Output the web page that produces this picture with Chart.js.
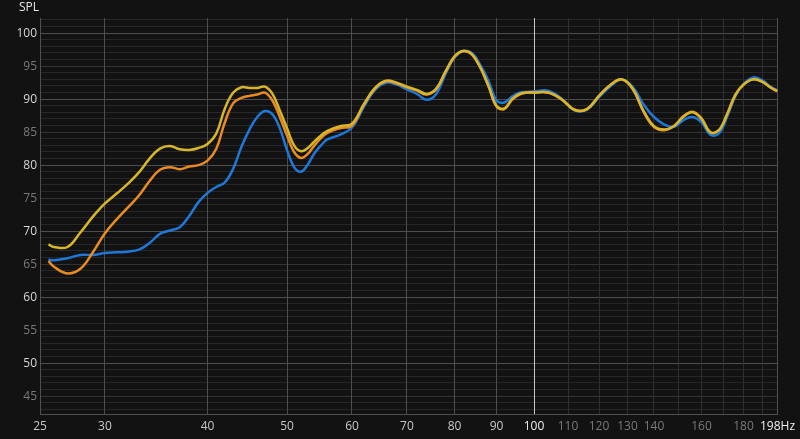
<!DOCTYPE html>
<html>
<head>
<meta charset="utf-8">
<script src="https://cdn.jsdelivr.net/npm/chart.js@4"></script>
<style>
  html, body { margin: 0; padding: 0; background: #121212; }
  canvas { display: block; }
</style>
</head>
<body>
<canvas id="spl" width="800" height="439"></canvas>
<script>
// frequency points (Hz)
const freqs = [
  25.6, 26, 27, 28, 29, 30, 31, 32, 33, 34, 35, 36, 37, 38, 39, 40, 41, 42, 43, 44, 45, 46, 47, 48, 49, 50,
  51, 52, 53, 54, 55, 56, 58, 60, 62, 64, 66, 68, 70, 72, 74, 76, 78, 80, 82, 84, 86, 88, 90, 92, 94, 96, 98, 100,
  104, 108, 112, 116, 120, 124, 128, 132, 136, 140, 144, 148, 152, 156, 160, 164, 168, 172, 176, 180,
  185, 190, 194, 198
];

const yellowSpl = [
  68.0, 67.6, 67.6, 69.8, 72.2, 74.2, 75.7, 77.2, 78.9, 81.0, 82.5, 82.9, 82.4, 82.3, 82.6, 83.2, 84.8, 88.6, 91.0, 91.8, 91.7, 91.7, 91.9, 90.8, 88.3, 85.6,
  83.0, 82.1, 82.6, 83.6, 84.5, 85.2, 85.9, 86.3, 89.2, 91.7, 92.8, 92.5, 91.9, 91.4, 90.8, 91.6, 94.2, 96.5, 97.3, 96.8, 94.8, 92.0, 89.0, 88.6, 90.0, 90.8, 91.0, 91.0,
  91.0, 90.0, 88.4, 88.5, 90.5, 92.2, 93.0, 91.5, 88.2, 85.9, 85.4, 85.9, 87.3, 88.0, 87.0, 85.0, 85.3, 87.8, 90.7, 92.2,
  93.0, 92.6, 91.8, 91.2
];

const orangeSpl = [
  65.5, 64.6, 63.6, 64.3, 66.8, 69.7, 71.8, 73.6, 75.4, 77.6, 79.3, 79.7, 79.4, 79.8, 80.0, 80.7, 82.5, 86.5, 89.4, 90.2, 90.5, 90.7, 91.0, 89.8, 87.3, 84.5,
  82.0, 81.1, 81.7, 83.0, 84.1, 84.9, 85.6, 86.0, 89.1, 91.6, 92.7, 92.4, 91.8, 91.3, 90.7, 91.5, 94.1, 96.4, 97.3, 96.8, 94.8, 92.0, 88.9, 88.5, 89.9, 90.7, 91.0, 91.0,
  91.0, 90.0, 88.4, 88.5, 90.5, 92.2, 93.0, 91.5, 88.1, 85.8, 85.3, 85.9, 87.4, 88.1, 87.1, 85.0, 85.3, 87.8, 90.7, 92.2,
  93.0, 92.6, 91.8, 91.2
];

const blueSpl = [
  65.7, 65.6, 65.9, 66.4, 66.4, 66.7, 66.8, 66.9, 67.2, 68.2, 69.6, 70.1, 70.6, 72.3, 74.4, 75.8, 76.7, 77.4, 79.5, 82.8, 85.4, 87.3, 88.2, 87.7, 85.6, 82.3,
  79.7, 79.0, 80.1, 81.8, 83.0, 83.9, 84.6, 85.7, 88.8, 91.4, 92.5, 92.2, 91.5, 90.8, 89.9, 90.8, 93.8, 96.3, 97.3, 97.0, 95.2, 92.8, 89.8, 89.5, 90.4, 91.0, 91.1, 91.2,
  91.3, 90.1, 88.3, 88.4, 90.3, 92.0, 93.0, 91.8, 89.2, 87.3, 86.2, 85.8, 86.8, 87.3, 86.5, 84.6, 84.8, 87.4, 90.5, 92.3,
  93.3, 92.8, 91.9, 91.3
];

// axis ticks
const xTicks = [25, 30, 40, 50, 60, 70, 80, 90, 100, 110, 120, 130, 140, 150, 160, 170, 180, 190, 198];
const xLabelled = [25, 30, 40, 50, 60, 70, 80, 90, 100, 110, 120, 130, 140, 160, 180, 198];
const yMin = 42.3, yMax = 102.3;

const toPoints = vals => freqs.map((f, i) => ({ x: f, y: vals[i] }));

const backdrop = {
  id: 'backdrop',
  beforeDraw(chart) {
    const c = chart.ctx;
    c.save();
    c.fillStyle = '#121212';
    c.fillRect(0, 0, chart.width, chart.height);
    c.restore();
  },
  afterDraw(chart) {
    const c = chart.ctx;
    c.save();
    c.fillStyle = '#e6e6e6';
    c.font = '12px "Open Sans"';
    c.textBaseline = 'middle';
    c.fillText('SPL', 19, 8);
    c.restore();
  }
};

const lineStyle = (color) => ({
  borderColor: color,
  borderWidth: 2.5,
  pointRadius: 0,
  tension: 0.4,
  fill: false
});

new Chart(document.getElementById('spl'), {
  type: 'line',
  data: {
    datasets: [
      { label: 'C', data: toPoints(yellowSpl), ...lineStyle('#d8b62a') },
      { label: 'B', data: toPoints(orangeSpl), ...lineStyle('#e88b22') },
      { label: 'A', data: toPoints(blueSpl), ...lineStyle('#1f77d8') }
    ]
  },
  plugins: [backdrop],
  options: {
    responsive: false,
    animation: false,
    layout: { padding: { top: 18, right: 19, left: 0, bottom: 0 } },
    plugins: { legend: { display: false }, tooltip: { enabled: false } },
    scales: {
      x: {
        type: 'logarithmic',
        min: 25,
        max: 198,
        afterBuildTicks: s => { s.ticks = xTicks.map(v => ({ value: v })); },
        afterFit: s => { s.height = 25; },
        ticks: {
          autoSkip: false,
          maxRotation: 0,
          padding: 5,
          font: { family: 'Open Sans', size: 12 },
          color: c => {
            const v = c.tick.value;
            if (v === 100 || v === 198) return '#f0f0f0';
            return v > 100 ? '#7a7a7a' : '#c8c8c8';
          },
          callback: v => v === 198 ? '198Hz' : (xLabelled.includes(v) ? String(v) : '')
        },
        grid: {
          z: -1,
          drawTicks: false,
          color: c => {
            const v = c.tick.value;
            if (v === 100) return '#c8c8c8';
            if (v === 25 || v === 198) return '#505050';
            return v > 100 ? '#2f2f2f' : '#4e4e4e';
          }
        },
        border: { color: '#505050' }
      },
      y: {
        min: yMin,
        max: yMax,
        afterBuildTicks: s => {
          const t = [];
          for (let v = 43; v <= 102; v++) t.push({ value: v });
          s.ticks = t;
        },
        afterFit: s => { s.width = 40; },
        ticks: {
          autoSkip: false,
          padding: 3,
          font: { family: 'Open Sans', size: 12 },
          color: c => c.tick.value % 10 === 0 ? '#d6d6d6' : '#7a7a7a',
          callback: v => v % 5 === 0 ? String(v) : ''
        },
        grid: {
          z: -3,
          drawTicks: false,
          color: c => {
            const v = c.tick.value;
            if (v % 10 === 0) return '#4e4e4e';
            if (v % 5 === 0) return '#333333';
            return '#272727';
          }
        },
        border: { color: '#505050' }
      }
    }
  }
});
</script>
</body>
</html>
